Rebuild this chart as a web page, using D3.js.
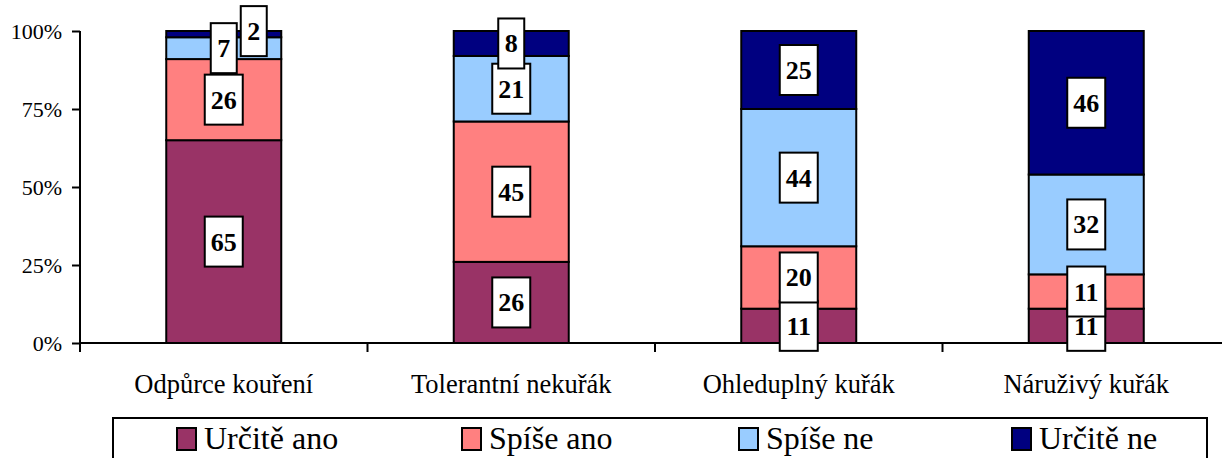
<!DOCTYPE html>
<html>
<head>
<meta charset="utf-8">
<script src="https://cdn.jsdelivr.net/npm/d3@7"></script>
<style>
  body { margin: 0; background: #fff; }
</style>
</head>
<body>
<div class="chart"></div>
<script>
var categories = ["Odpůrce kouření", "Tolerantní nekuřák", "Ohleduplný kuřák", "Náruživý kuřák"];
var seriesNames = ["Určitě ano", "Spíše ano", "Spíše ne", "Určitě ne"];
var seriesColors = ["#993366", "#FF8080", "#99CCFF", "#000080"];
var urciteAno = [65, 26, 11, 11];
var spiseAno = [26, 45, 20, 11];
var spiseNe = [7, 21, 44, 32];
var urciteNe = [2, 8, 25, 46];
var yTicks = [0, 25, 50, 75, 100];

var width = 1222, height = 458;
var margin = {left: 80, top: 31, bottom: 115};
var plotW = 287.5 * 4;
var serif = "Liberation Serif";

var svg = d3.select(".chart").append("svg")
  .attr("width", width).attr("height", height)
  .attr("font-family", serif);

var x = d3.scaleBand().domain(categories).range([margin.left, margin.left + plotW]).paddingInner(0.6).paddingOuter(0.3);
var y = d3.scaleLinear().domain([0, 100]).range([height - margin.bottom, margin.top]);

var rows = categories.map(function(c, i) {
  return {cat: c, "Určitě ano": urciteAno[i], "Spíše ano": spiseAno[i], "Spíše ne": spiseNe[i], "Určitě ne": urciteNe[i]};
});
var stacked = d3.stack().keys(seriesNames)(rows);

// bars
stacked.forEach(function(layer, li) {
  svg.append("g").selectAll("rect").data(layer).enter().append("rect")
    .attr("x", function(d) { return x(d.data.cat); })
    .attr("width", x.bandwidth())
    .attr("y", function(d) { return y(d[1]); })
    .attr("height", function(d) { return y(d[0]) - y(d[1]); })
    .attr("fill", seriesColors[li])
    .attr("stroke", "#000").attr("stroke-width", 2);
});

// axes
var yAxis = svg.append("g").attr("transform", "translate(" + margin.left + ",0)")
  .call(d3.axisLeft(y).tickValues(yTicks).tickFormat(function(d) { return d + "%"; }).tickSize(8).tickPadding(10));
yAxis.attr("font-family", serif).attr("font-size", 22);
yAxis.select(".domain").attr("d", "M0," + y(100) + "V" + (y(0) + 9)).attr("stroke-width", 2);
yAxis.selectAll("line").attr("stroke-width", 2);
yAxis.selectAll("text").attr("fill", "#000");

var xAxis = svg.append("g").attr("transform", "translate(0," + y(0) + ")");
xAxis.append("line").attr("x1", margin.left).attr("x2", width).attr("stroke", "#000").attr("stroke-width", 2);
xAxis.selectAll(".tk").data(categories.slice(1)).enter().append("line")
  .attr("x1", function(d) { return x(d) - x.step() * 0.3; })
  .attr("x2", function(d) { return x(d) - x.step() * 0.3; })
  .attr("y1", 0).attr("y2", 9).attr("stroke", "#000").attr("stroke-width", 2);
xAxis.selectAll(".lab").data(categories).enter().append("text")
  .attr("x", function(d) { return x(d) + x.bandwidth() / 2; })
  .attr("y", 50).attr("text-anchor", "middle").attr("font-size", 26.5).text(function(d) { return d; });

// data labels
var labelShift = {"0-3": 30};
stacked.forEach(function(layer, li) {
  layer.forEach(function(d, ci) {
    var v = d[1] - d[0];
    var cx = x(d.data.cat) + x.bandwidth() / 2 + (labelShift[ci + "-" + li] || 0);
    var cy = y((d[0] + d[1]) / 2);
    if (ci === 0 && li === 3) cy -= 3;
    var w = String(v).length > 1 ? 38 : 26;
    var g = svg.append("g");
    g.append("rect").attr("x", cx - w / 2).attr("y", cy - 25).attr("width", w).attr("height", 50)
      .attr("fill", "#fff").attr("stroke", "#000").attr("stroke-width", 2);
    g.append("text").attr("x", cx).attr("y", cy + 9).attr("text-anchor", "middle")
      .attr("font-size", 26).attr("font-weight", "bold").text(v);
  });
});

// legend
var legend = svg.append("g");
legend.append("rect").attr("x", 113).attr("y", 418).attr("width", 1094).attr("height", 60)
  .attr("fill", "#fff").attr("stroke", "#000").attr("stroke-width", 2);
var legendX = [177, 462, 739, 1012];
seriesNames.forEach(function(s, i) {
  legend.append("rect").attr("x", legendX[i]).attr("y", 428).attr("width", 19).attr("height", 22)
    .attr("fill", seriesColors[i]).attr("stroke", "#000").attr("stroke-width", 2);
  legend.append("text").attr("x", legendX[i] + 27).attr("y", 449).attr("font-size", 32).text(s);
});
</script>
</body>
</html>
